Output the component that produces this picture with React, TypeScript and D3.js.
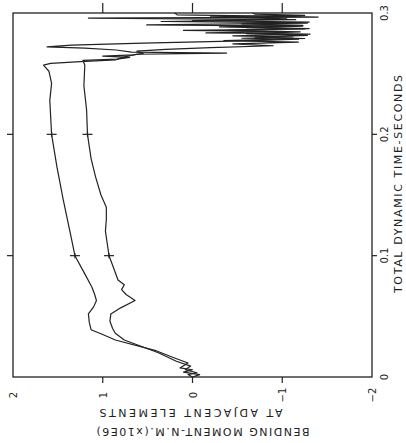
import React from "react";
import * as d3 from "d3";

// Time (s), bending moment (x10^6 N·m)
const outerSeries: [number, number][] = [
  [0.0, 0.0], [0.002, -0.08], [0.004, 0.1], [0.006, 0.0], [0.0075, 0.14], [0.0115, 0.05],
  [0.0157, 0.2], [0.022, 0.42], [0.0305, 0.86], [0.035, 1.0], [0.039, 1.13], [0.045, 1.15],
  [0.052, 1.16], [0.058, 1.1], [0.063, 1.07], [0.068, 1.09], [0.074, 1.12], [0.085, 1.2],
  [0.1, 1.31], [0.118, 1.36], [0.146, 1.44], [0.173, 1.51], [0.2, 1.57], [0.228, 1.59],
  [0.242, 1.57], [0.252, 1.6], [0.257, 1.66],
  [0.2585, 1.58], [0.26, 1.25], [0.2613, 0.86], [0.263, 0.8], [0.2645, 0.72], [0.266, 0.62],
  [0.267, -0.38], [0.2678, 0.68], [0.2695, 0.85], [0.271, 1.2], [0.272, 1.62], [0.2735, 1.35],
  [0.2752, 0.55], [0.2766, -0.31], [0.2776, -0.85], [0.2784, -1.18], [0.2792, -0.55],
  [0.2802, -1.12], [0.2812, -0.45], [0.2826, -1.31], [0.2831, -0.9], [0.2836, -0.15],
  [0.2846, -1.05], [0.2851, -0.7], [0.2856, 0.1], [0.2868, -1.25], [0.2874, -0.95],
  [0.288, -0.6], [0.2892, -1.23], [0.2902, 0.51], [0.2917, -1.28], [0.2923, -0.8],
  [0.293, 0.35], [0.2945, -1.15], [0.2958, 1.16], [0.2966, -1.4], [0.2975, -0.85],
  [0.2985, 0.17], [0.3, 0.2],
];

const innerSeries: [number, number][] = [
  [0.0, 0.0], [0.002, 0.05], [0.0035, -0.05], [0.006, 0.08], [0.009, 0.02], [0.013, 0.18],
  [0.02, 0.38], [0.0305, 0.76], [0.036, 0.86], [0.04, 0.89], [0.046, 0.92], [0.052, 0.91],
  [0.057, 0.8], [0.063, 0.64], [0.068, 0.74], [0.072, 0.79], [0.076, 0.76], [0.08, 0.83],
  [0.09, 0.88], [0.1, 0.93], [0.11, 0.95], [0.12, 0.97], [0.13, 0.96], [0.14, 0.96],
  [0.15, 1.02], [0.165, 1.08], [0.18, 1.13], [0.2, 1.17], [0.22, 1.18], [0.24, 1.21],
  [0.257, 1.2], [0.261, 1.22],
  [0.262, 0.84], [0.2635, 0.7], [0.2645, 1.0], [0.2655, 0.66], [0.2668, 0.55], [0.2685, 0.62],
  [0.27, 0.3], [0.2715, -0.2], [0.273, -0.9], [0.2745, -0.45], [0.276, -1.18], [0.2772, -0.35],
  [0.279, -1.25], [0.28, -0.7], [0.2815, -1.28], [0.283, -0.6], [0.2845, -1.2], [0.2858, -0.4],
  [0.2872, -1.3], [0.2885, -0.3], [0.2898, -1.23], [0.291, -0.55], [0.2925, -1.3], [0.2938, 0.0],
  [0.2952, -1.05], [0.2968, -0.2], [0.298, -1.25], [0.299, -0.7], [0.3, -0.67],
];

const markerTimes = [0.1, 0.2];
const timeTicks = [0, 0.1, 0.2, 0.3];
const timeTickLabels = ["0", "0.1", "0.2", "0.3"];
const momentTicks = [2, 1, 0, -1, -2];
const momentTickLabels = ["2", "1", "0", "\u22121", "\u22122"];
const innerTicks = [1, 0, -1];
const innerTimeTicks = [0.1, 0.2];

const timeTitle = "TOTAL DYNAMIC TIME-SECONDS";
const momentTitle1 = "BENDING MOMENT-N.M.(x10E6)";
const momentTitle2 = "AT ADJACENT ELEMENTS";

export default function App() {
  const left = 13, right = 372, top = 13, bottom = 377;
  // rotated chart: time runs up the page, moment runs right-to-left
  const ty = d3.scaleLinear().domain([0, 0.3]).range([bottom, top]);
  const mx = d3.scaleLinear().domain([2, -2]).range([left, right]);
  const line = d3.line<[number, number]>().x((d) => mx(d[1])).y((d) => ty(d[0]));
  const interp = (s: [number, number][], t: number) => {
    for (let i = 1; i < s.length; i++) {
      if (s[i][0] >= t) {
        const [t0, m0] = s[i - 1];
        const [t1, m1] = s[i];
        return m0 + ((m1 - m0) * (t - t0)) / (t1 - t0);
      }
    }
    return s[s.length - 1][1];
  };
  const ink = "#222";
  const font = "'DejaVu Sans', sans-serif";
  return (
    <svg width={406} height={443} style={{ position: "absolute", left: 0, top: 0, background: "#fff" }}>
      <rect x={0} y={0} width={406} height={443} fill="#fff" />
      <rect x={left} y={top} width={right - left} height={bottom - top} fill="none" stroke={ink} strokeWidth={1.3} />
      {innerTicks.map((m) => (
        <g key={"mt" + m}>
          <line x1={mx(m)} x2={mx(m)} y1={bottom} y2={bottom + 6} stroke={ink} strokeWidth={1.2} />
          <line x1={mx(m)} x2={mx(m)} y1={top} y2={top - 10} stroke={ink} strokeWidth={1.2} />
        </g>
      ))}
      {innerTimeTicks.map((t) => (
        <g key={"tt" + t}>
          <line x1={left} x2={left - 6} y1={ty(t)} y2={ty(t)} stroke={ink} strokeWidth={1.2} />
          <line x1={right} x2={right + 5} y1={ty(t)} y2={ty(t)} stroke={ink} strokeWidth={1.2} />
        </g>
      ))}
      <path d={line(outerSeries) || ""} fill="none" stroke={ink} strokeWidth={1.2} strokeLinejoin="round" />
      <path d={line(innerSeries) || ""} fill="none" stroke={ink} strokeWidth={1.2} strokeLinejoin="round" />
      {[outerSeries, innerSeries].map((s, si) =>
        markerTimes.map((t) => {
          const x = mx(interp(s, t));
          const y = ty(t);
          return (
            <g key={"mk" + si + t} stroke={ink} strokeWidth={1.2}>
              <line x1={x - 5} x2={x + 5} y1={y} y2={y} />
              <line x1={x} x2={x} y1={y - 2.5} y2={y + 2.5} />
            </g>
          );
        })
      )}
      {timeTicks.map((t, i) => (
        <text key={"tl" + t} transform={`translate(${right + 16},${ty(t)}) rotate(-90)`} textAnchor="middle"
          fontFamily={font} fontSize={10} fill={ink}>{timeTickLabels[i]}</text>
      ))}
      {momentTicks.map((m, i) => (
        <text key={"ml" + m} transform={`translate(${mx(m) + 4},${bottom + 18}) rotate(-90)`} textAnchor="middle"
          fontFamily={font} fontSize={10} fill={ink}>{momentTickLabels[i]}</text>
      ))}
      <text transform={`translate(${right + 30},184) rotate(-90)`} textAnchor="middle" fontFamily={font}
        fontSize={11} fill={ink} textLength={218} lengthAdjust="spacing">{timeTitle}</text>
      <text transform={`translate(191,409) rotate(180)`} textAnchor="middle" fontFamily={font}
        fontSize={11} fill={ink} textLength={183} lengthAdjust="spacing">{momentTitle2}</text>
      <text transform={`translate(203,428) rotate(180)`} textAnchor="middle" fontFamily={font}
        fontSize={11} fill={ink} textLength={213} lengthAdjust="spacing">{momentTitle1}</text>
    </svg>
  );
}
